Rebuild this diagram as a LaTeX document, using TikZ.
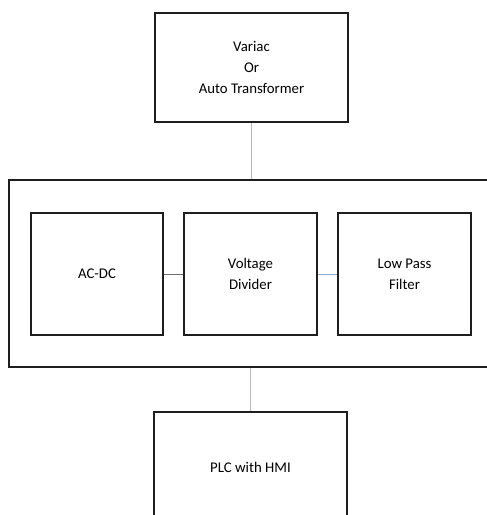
\documentclass[tikz,border=0pt]{standalone}
\usepackage{fontspec}
\setmainfont{Carlito}
\definecolor{boxline}{RGB}{30,30,30}
\definecolor{connA}{RGB}{185,185,185}
\definecolor{connB}{RGB}{110,110,110}
\definecolor{connC}{RGB}{140,170,220}
\begin{document}
\begin{tikzpicture}[x=1pt,y=-1pt,
  blockbox/.style={draw=boxline,line width=1.8pt,inner sep=0pt,align=center,
    font=\fontsize{14.8}{21}\selectfont,text=black},
  conn/.style={line width=1.4pt}]
\useasboundingbox (0,0) rectangle (487,515);
\clip (0,0) rectangle (487,515);
\node[blockbox,minimum width=193pt,minimum height=109pt] (top) at (251.5,67.5) {Variac\\Or\\Auto Transformer};
\node[blockbox,minimum width=479pt,minimum height=187pt] (big) at (248.5,273.5) {};
\node[blockbox,minimum width=132pt,minimum height=122pt] (acdc) at (97,274) {AC-DC};
\node[blockbox,minimum width=133pt,minimum height=122pt] (vd) at (250.5,274) {Voltage\\Divider};
\node[blockbox,minimum width=133pt,minimum height=122pt] (lpf) at (404.5,274) {Low Pass\\Filter};
\node[blockbox,minimum width=193pt,minimum height=110pt] (plc) at (250.5,467) {PLC with HMI};
\draw[conn,connA] (top.south) -- (top.south |- big.north);
\draw[conn,connA] (big.south -| plc.north) -- (plc.north);
\draw[line width=1pt,connB] (acdc.east) -- (vd.west);
\draw[line width=1pt,connC] (vd.east) -- (lpf.west);
\end{tikzpicture}
\end{document}
